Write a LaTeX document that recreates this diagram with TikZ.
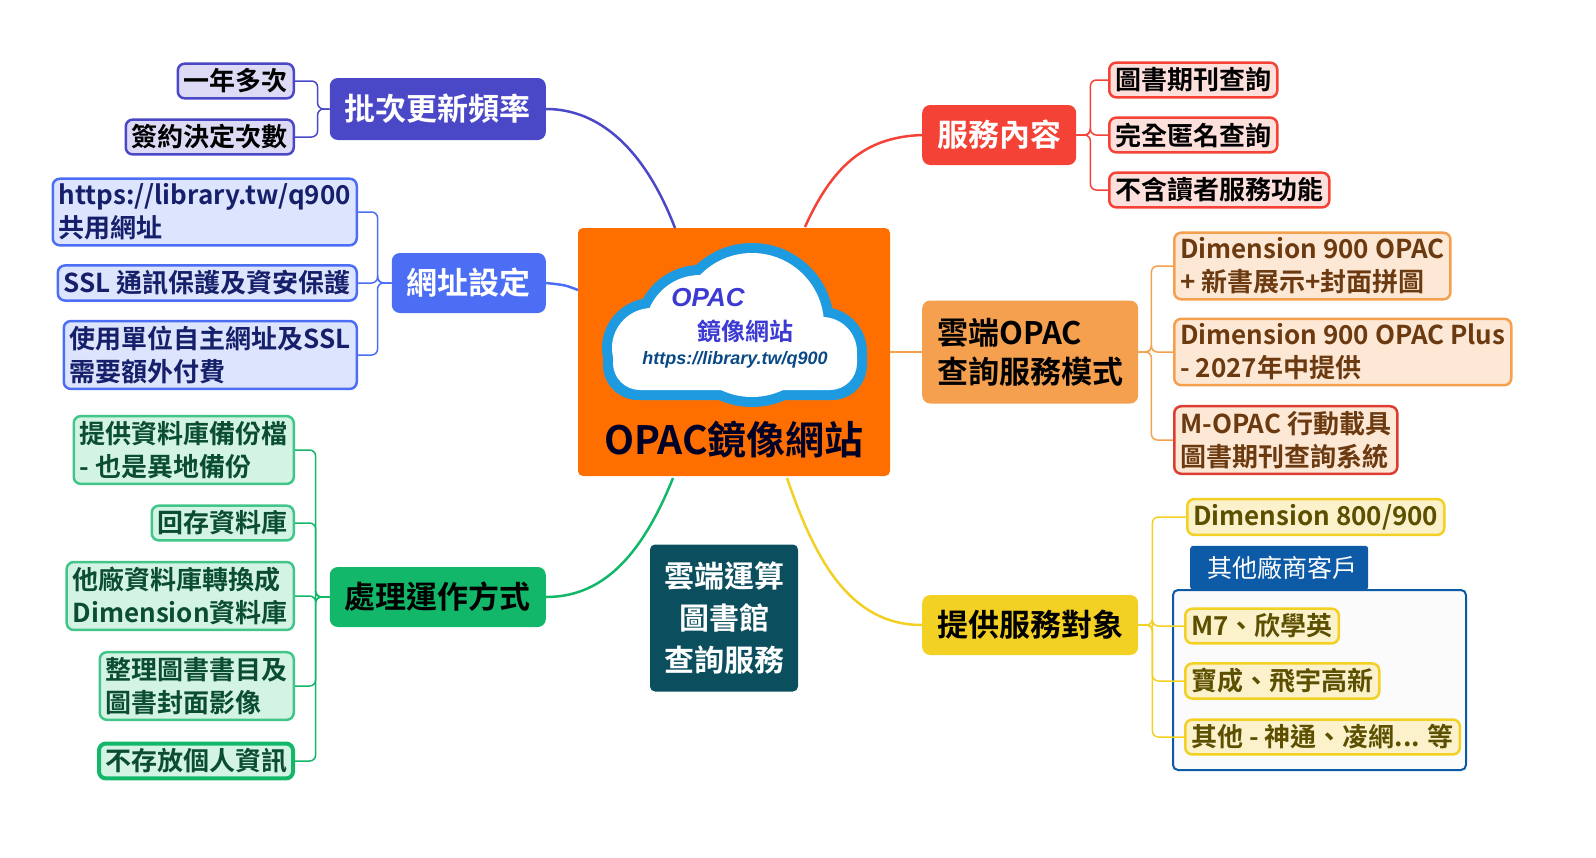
\documentclass[tikz,border=0pt]{standalone}
\usepackage{fontspec}
\setmainfont{Noto Sans CJK TC}[BoldFont={Noto Sans CJK TC Bold}]
\newfontfamily\ars{Liberation Sans}
\begin{document}
\begin{tikzpicture}[x=1pt,y=-1pt,
 every node/.style={font=\bfseries, align=left, inner sep=0pt},
 br/.style={rounded corners=8pt, inner xsep=15pt, inner ysep=8pt, font=\fontsize{31}{39}\selectfont\bfseries},
 lf/.style={rounded corners=7pt, line width=2.5pt, inner xsep=6pt, inner ysep=5pt, font=\fontsize{26}{33}\selectfont\bfseries},
 cn/.style={line width=2.5pt},
 bk/.style={line width=1.5pt, rounded corners=6pt}]
\useasboundingbox (0,0) rectangle (1596,857);
\definecolor{cOr}{HTML}{FF6F00}
\definecolor{cRed}{HTML}{F44336}\definecolor{cRedL}{HTML}{FDE0DC}
\definecolor{cLo}{HTML}{F4A04F}\definecolor{cLoL}{HTML}{FDE8D5}\definecolor{cBrn}{HTML}{6B3A10}
\definecolor{cYe}{HTML}{F2D024}\definecolor{cYeL}{HTML}{FBF2CC}\definecolor{cOl}{HTML}{5C4F00}
\definecolor{cInd}{HTML}{4B48C8}\definecolor{cIndL}{HTML}{DCDAF5}
\definecolor{cBl}{HTML}{4C6EF5}\definecolor{cBlL}{HTML}{DDE4FD}\definecolor{cNav}{HTML}{16206A}
\definecolor{cGr}{HTML}{12B76A}\definecolor{cGrL}{HTML}{D3F4E4}\definecolor{cDg}{HTML}{0B4D32}
\definecolor{cTeal}{HTML}{0B4F5F}\definecolor{cTab}{HTML}{0D5BA6}\definecolor{cCl}{HTML}{1E9BE0}

% central node
\node[fill=cOr, rounded corners=5pt, minimum width=312pt, minimum height=248pt] (main) at (734,352) {};
\fill[cCl] (752,325) circle (82) (652,348) circle (50) (822,352) circle (45) (700,330) circle (65);
\fill[cCl, rounded corners=35pt] (603,320) rectangle (867,400);
\fill[white] (752,325) circle (72) (652,348) circle (40) (822,352) circle (35) (700,330) circle (55);
\fill[white, rounded corners=27pt] (613,330) rectangle (857,390);
\node[font=\ars\bfseries\itshape\fontsize{26}{30}\selectfont, text=cInd!80!blue] (op) at (708,298) {OPAC};
\node[font=\fontsize{24}{28}\selectfont\bfseries, text=cInd!80!blue] (jx) at (745,331) {鏡像網站};
\node[font=\ars\bfseries\itshape\fontsize{18}{22}\selectfont, text=cTab!80!black] (url) at (735,360) {https://library.tw/q900};
\node[font=\fontsize{39}{44}\selectfont\bfseries, text=black!85!blue] (title) at (734,440) {OPAC鏡像網站};

% teal box
\node[fill=cTeal, text=white, rounded corners=5pt, minimum width=148pt, minimum height=147pt, align=center, font=\fontsize{30}{42}\selectfont\bfseries] (cloudlib) at (724,618) {雲端運算\\圖書館\\查詢服務};

% right branches
\node[br, fill=cRed, text=white, anchor=west, minimum height=60pt] (s1) at (922,135) {服務內容};
\node[br, fill=cLo, text=black, anchor=west, minimum height=103pt] (s2) at (922,352) {雲端OPAC\\查詢服務模式};
\node[br, fill=cYe, text=black, anchor=west, minimum height=60pt] (s3) at (922,625) {提供服務對象};
% left branches
\node[br, fill=cInd, text=white, anchor=east, minimum height=62pt] (l1) at (546,109) {批次更新頻率};
\node[br, fill=cBl, text=white, anchor=east, minimum height=60pt] (l2) at (546,283) {網址設定};
\node[br, fill=cGr, text=black, anchor=east, minimum height=60pt] (l3) at (546,597) {處理運作方式};

% main connectors
\draw[cn, cRed] (805,227) .. controls (835,160) and (870,137) .. (s1.west);
\draw[cn, cLo] (main.east |- s2.west) -- (s2.west);
\draw[cn, cYe] (787,478) .. controls (815,560) and (850,625) .. (s3.west);
\draw[cn, cInd] (675,228) .. controls (645,150) and (600,109) .. (l1.east);
\draw[cn, cBl] (578,290) .. controls (565,285) .. (l2.east);
\draw[cn, cGr] (673,478) .. controls (640,560) and (600,597) .. (l3.east);

% service content leaves
\node[lf, draw=cRed, fill=cRedL, anchor=west] (r11) at (1108,80) {圖書期刊查詢};
\node[lf, draw=cRed, fill=cRedL, anchor=west] (r12) at (1108,135) {完全匿名查詢};
\node[lf, draw=cRed, fill=cRedL, anchor=west] (r13) at (1108,190) {不含讀者服務功能};
\foreach \n in {r11,r12,r13} \draw[bk, cRed] (s1.east) -- ++(14,0) |- (\n.west);

% OPAC mode leaves
\node[lf, draw=cLo, fill=cLoL, text=cBrn, anchor=west] (r21) at (1173,266) {Dimension 900 OPAC\\+ 新書展示+封面拼圖};
\node[lf, draw=cLo, fill=cLoL, text=cBrn, anchor=west] (r22) at (1173,352) {Dimension 900 OPAC Plus\\- 2027年中提供};
\node[lf, draw=cRed!90!black, fill=cLoL, text=cBrn, anchor=west] (r23) at (1173,440) {M-OPAC 行動載具\\圖書期刊查詢系統};
\foreach \n in {r21,r22,r23} \draw[bk, cLo] (s2.east) -- ++(13,0) |- (\n.west);

% service targets
\draw[line width=2pt, cTab, rounded corners=5pt, fill=gray!3] (1173,590) rectangle (1466,770);
\node[fill=cTab, text=white, anchor=south west, minimum width=178pt, minimum height=44pt, font=\fontsize{25}{30}\selectfont, rounded corners=3pt] (tab) at (1190,590) {\ 其他廠商客戶};
\node[lf, draw=cYe, fill=cYeL, text=cOl, anchor=west] (r31) at (1186,517) {Dimension 800/900};
\node[lf, draw=cYe, fill=cYeL, text=cOl, anchor=west] (r32) at (1184,626) {M7、欣學英};
\node[lf, draw=cYe, fill=cYeL, text=cOl, anchor=west] (r33) at (1184,681) {寶成、飛宇高新};
\node[lf, draw=cYe, fill=cYeL, text=cOl, anchor=west] (r34) at (1184,737) {其他 - 神通、凌網... 等};
\foreach \n in {r31,r32,r33,r34} \draw[bk, cYe] (s3.east) -- ++(14,0) |- (\n.west);

% batch update leaves
\node[lf, draw=cInd, fill=cIndL, text=black, anchor=east] (q11) at (295,81) {一年多次};
\node[lf, draw=cInd, fill=cIndL, text=black, anchor=east] (q12) at (295,137) {簽約決定次數};
\foreach \n in {q11,q12} \draw[bk, cInd] (l1.west) -- ++(-12,0) |- (\n.east);

% url leaves
\node[lf, draw=cBl, fill=cBlL, text=cNav, anchor=east] (q21) at (358,212) {https://library.tw/q900\\共用網址};
\node[lf, draw=cBl, fill=cBlL, text=cNav, anchor=east] (q22) at (358,283) {SSL 通訊保護及資安保護};
\node[lf, draw=cBl, fill=cBlL, text=cNav, anchor=east] (q23) at (358,355) {使用單位自主網址及SSL\\需要額外付費};
\foreach \n in {q21,q22,q23} \draw[bk, cBl] (l2.west) -- ++(-14,0) |- (\n.east);

% processing leaves
\node[lf, draw=cGr!80!white, fill=cGrL, text=cDg, anchor=east] (q31) at (295,450) {提供資料庫備份檔\\- 也是異地備份};
\node[lf, draw=cGr!80!white, fill=cGrL, text=cDg, anchor=east] (q32) at (295,523) {回存資料庫};
\node[lf, draw=cGr!80!white, fill=cGrL, text=cDg, anchor=east] (q33) at (295,596) {他廠資料庫轉換成\\Dimension資料庫};
\node[lf, draw=cGr!80!white, fill=cGrL, text=cDg, anchor=east] (q34) at (295,686) {整理圖書書目及\\圖書封面影像};
\node[lf, draw=cGr, line width=4pt, fill=cGrL, text=cDg, anchor=east] (q35) at (295,761) {不存放個人資訊};
\foreach \n in {q31,q32,q33,q34,q35} \draw[bk, cGr] (l3.west) -- ++(-14,0) |- (\n.east);
\end{tikzpicture}
\end{document}
